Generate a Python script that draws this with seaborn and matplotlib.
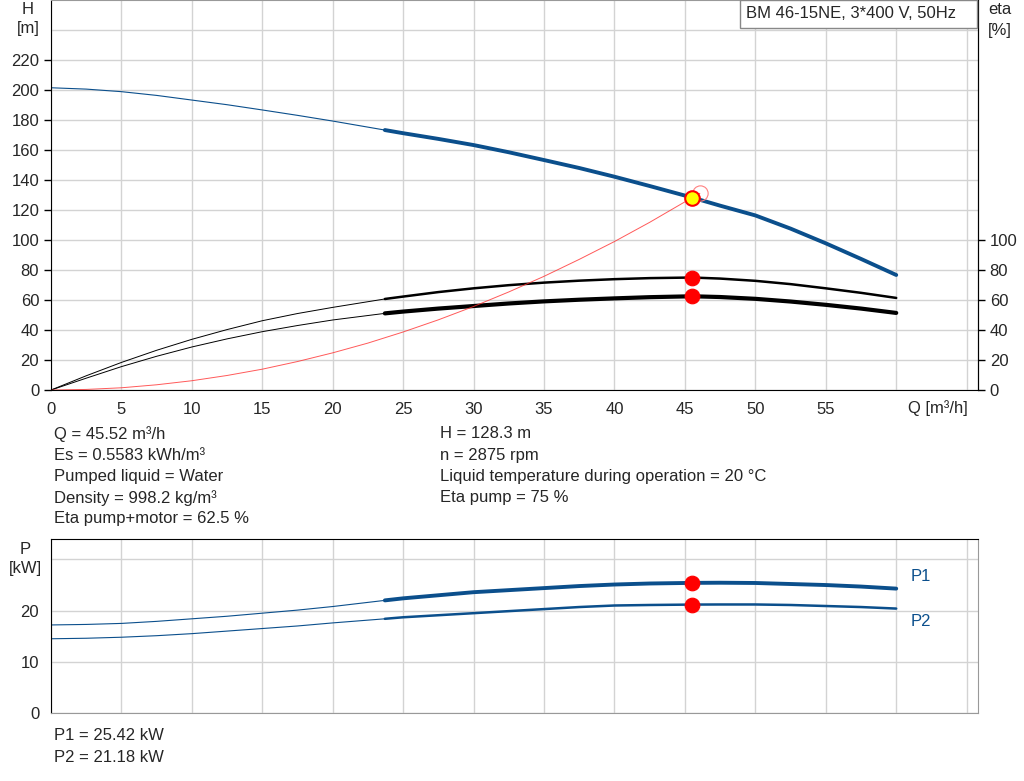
import matplotlib
matplotlib.use("Agg")
import matplotlib.pyplot as plt
from matplotlib.patches import Rectangle
import seaborn as sns
import pandas as pd

# flow points [m3/h] shared by pump curves
q = [0, 2.5, 5, 7.5, 10, 12.5, 15, 17.5, 20, 23.7, 25, 27.5, 30, 32.5, 35,
     37.5, 40, 42.5, 45.52, 47.5, 50, 52.5, 55, 57.5, 60]
head = [201.5, 200.6, 198.9, 196.4, 193.3, 190.2, 186.7, 183.1, 179.3, 173.3, 171.2, 167.4, 163.3,
        158.5, 153.3, 148.0, 142.2, 136.0, 128.3, 122.9, 116.4, 107.6, 97.8, 87.4, 76.7]
eta_pump = [0, 9.5, 18.4, 26.5, 33.8, 40.3, 46.2, 51.0, 55.1, 60.7, 62.3, 65.3, 67.8,
            69.9, 71.6, 72.9, 73.9, 74.6, 75.0, 74.3, 72.8, 70.6, 67.8, 64.8, 61.4]
eta_total = [0, 7.9, 15.6, 22.5, 28.7, 34.1, 38.9, 43.0, 46.7, 51.1, 52.3, 54.3, 56.0,
             57.7, 59.1, 60.2, 61.1, 61.9, 62.5, 62.0, 60.8, 59.0, 56.8, 54.3, 51.4]
p1 = [17.2, 17.3, 17.5, 17.9, 18.4, 18.9, 19.5, 20.1, 20.8, 22.0, 22.4, 23.0, 23.6,
      24.0, 24.4, 24.8, 25.1, 25.3, 25.42, 25.45, 25.4, 25.2, 25.0, 24.7, 24.3]
p2 = [14.5, 14.6, 14.8, 15.1, 15.5, 16.0, 16.5, 17.0, 17.6, 18.4, 18.7, 19.1, 19.5,
      19.9, 20.3, 20.7, 21.0, 21.1, 21.18, 21.2, 21.2, 21.1, 20.9, 20.7, 20.4]
q_min = 23.7  # start of the thick (recommended) part

# system curve
q_sys = [0, 2.5, 5, 7.5, 10, 12.5, 15, 17.5, 20, 22.5, 25, 27.5, 30, 32.5, 35, 37.5, 40, 42.5, 45.52, 46.06]
h_sys = [0, 0.4, 1.5, 3.5, 6.2, 9.7, 13.9, 19.0, 24.8, 31.3, 38.7, 46.8, 55.7, 65.4, 75.8, 87.1, 99.0, 111.8, 128.3, 131.1]

# duty point
q_duty = 45.52
h_duty = 128.3
eta_duty = [75.0, 62.5]
p_duty = [25.42, 21.18]

title = "BM 46-15NE, 3*400 V, 50Hz"
info_left = ["Q = 45.52 m³/h", "Es = 0.5583 kWh/m³", "Pumped liquid = Water",
             "Density = 998.2 kg/m³", "Eta pump+motor = 62.5 %"]
info_right = ["H = 128.3 m", "n = 2875 rpm",
              "Liquid temperature during operation = 20 °C", "Eta pump = 75 %"]
info_power = ["P1 = 25.42 kW", "P2 = 21.18 kW"]

sns.set_style("white")
plt.rcParams['font.family'] = ['Liberation Sans', 'DejaVu Sans']
plt.rcParams['font.size'] = 12

BLUE = "#0b4f8c"
GRID = "#d3d3d3"
FS = 12

df = pd.DataFrame({"Q": q, "H": head, "eta_p": eta_pump, "eta_t": eta_total, "P1": p1, "P2": p2})
thick = df[df["Q"] >= q_min]
thin = df[df["Q"] <= q_min]

fig = plt.figure(figsize=(10.24, 7.81), dpi=100)
ax = fig.add_axes([0.0498, 0.5006, 0.9052, 0.4994])
axp = fig.add_axes([0.0498, 0.0871, 0.9052, 0.2228])


def style_grid(a):
    a.set_xlim(0, 65.8)
    a.set_xticks(range(0, 70, 5))
    a.grid(True, color=GRID, lw=1)
    a.set_axisbelow(True)
    a.tick_params(direction="out", length=5, width=1, color="black", labelsize=FS)


def curve(a, col, color, lw_thin, lw_thick):
    sns.lineplot(x=thin["Q"], y=thin[col], ax=a, color=color, lw=lw_thin, estimator=None, sort=False)
    sns.lineplot(x=thick["Q"], y=thick[col], ax=a, color=color, lw=lw_thick, estimator=None, sort=False)


# ---- top chart: head & efficiency ----
style_grid(ax)
ax.set_ylim(0, 260)
ax.set_yticks(range(0, 240, 20))
ax.set_yticks([240], minor=True)
ax.grid(True, which="minor", color=GRID, lw=1)
ax.tick_params(which="minor", length=0)
ax.set_xticklabels([str(v) if v <= 55 else "" for v in range(0, 70, 5)])
for s in ["left", "bottom", "right"]:
    ax.spines[s].set_color("black")
ax.spines["top"].set_color("#999999")

curve(ax, "H", BLUE, 0.8, 2.8)
curve(ax, "eta_p", "black", 0.7, 1.8)
curve(ax, "eta_t", "black", 0.7, 3.0)
sns.lineplot(x=q_sys, y=h_sys, ax=ax, color="#ff3030", lw=0.7, alpha=0.8, estimator=None, sort=False)

ax.plot([q_sys[-1]], [h_sys[-1]], "o", ms=11, mfc="none", mec="#ff8080", mew=0.8, zorder=5)
sns.scatterplot(x=[q_duty, q_duty], y=eta_duty, ax=ax, color="red", s=110, edgecolor="red", zorder=6)
sns.scatterplot(x=[q_duty], y=[h_duty], ax=ax, color="yellow", s=110, edgecolor="red", linewidth=1.5, zorder=7)
ax.set_xlabel("")
ax.set_ylabel("")

axr = ax.twinx()
axr.set_ylim(0, 260)
axr.set_yticks(range(0, 120, 20))
axr.tick_params(direction="out", length=5, width=1, color="black", labelsize=FS)
for s in axr.spines.values():
    s.set_visible(False)
axr.spines["right"].set_visible(True)
axr.spines["right"].set_color("black")

# model box in the top right corner
fig.patches.append(Rectangle((740 / 1024, 1 - 28 / 781), 237 / 1024, 28 / 781, transform=fig.transFigure,
                             fc="white", ec="#888888", lw=1, zorder=20))
fig.text(746 / 1024, 1 - 14 / 781, title, ha="left", va="center", fontsize=FS, zorder=21)

fig.text(28 / 1024, 1 - 9 / 781, "H", ha="center", va="center", fontsize=FS)
fig.text(28 / 1024, 1 - 29 / 781, "[m]", ha="center", va="center", fontsize=FS)
fig.text(1000 / 1024, 1 - 10 / 781, "eta", ha="center", va="center", fontsize=FS)
fig.text(1000 / 1024, 1 - 30 / 781, "[%]", ha="center", va="center", fontsize=FS)
fig.text(938 / 1024, 1 - 408 / 781, "Q [m³/h]", ha="center", va="center", fontsize=FS)

for i, t in enumerate(info_left):
    fig.text(54 / 1024, 1 - (434 + 21.2 * i) / 781, t, ha="left", va="center", fontsize=FS)
for i, t in enumerate(info_right):
    fig.text(440 / 1024, 1 - (434 + 21.2 * i) / 781, t, ha="left", va="center", fontsize=FS)

# ---- bottom chart: power ----
style_grid(axp)
axp.set_ylim(0, 34)
axp.set_yticks([0, 10, 20, 30])
axp.set_yticklabels(["0", "10", "20", ""])
axp.set_xticklabels([])
axp.tick_params(axis="x", length=0)
axp.spines["left"].set_color("black")
axp.spines["top"].set_color("black")
axp.spines["right"].set_color("#999999")
axp.spines["bottom"].set_color("#999999")

curve(axp, "P1", BLUE, 0.8, 2.8)
curve(axp, "P2", BLUE, 0.8, 1.8)
sns.scatterplot(x=[q_duty, q_duty], y=p_duty, ax=axp, color="red", s=110, edgecolor="red", zorder=6)
axp.set_xlabel("")
axp.set_ylabel("")

axp.text(61.0, 26.6, "P1", color=BLUE, fontsize=FS, ha="left", va="center")
axp.text(61.0, 17.8, "P2", color=BLUE, fontsize=FS, ha="left", va="center")

fig.text(25 / 1024, 1 - 549 / 781, "P", ha="center", va="center", fontsize=FS)
fig.text(25 / 1024, 1 - 568 / 781, "[kW]", ha="center", va="center", fontsize=FS)

for i, t in enumerate(info_power):
    fig.text(54 / 1024, 1 - (736 + 21.2 * i) / 781, t, ha="left", va="center", fontsize=FS)

fig.savefig("out.png", dpi=100)
